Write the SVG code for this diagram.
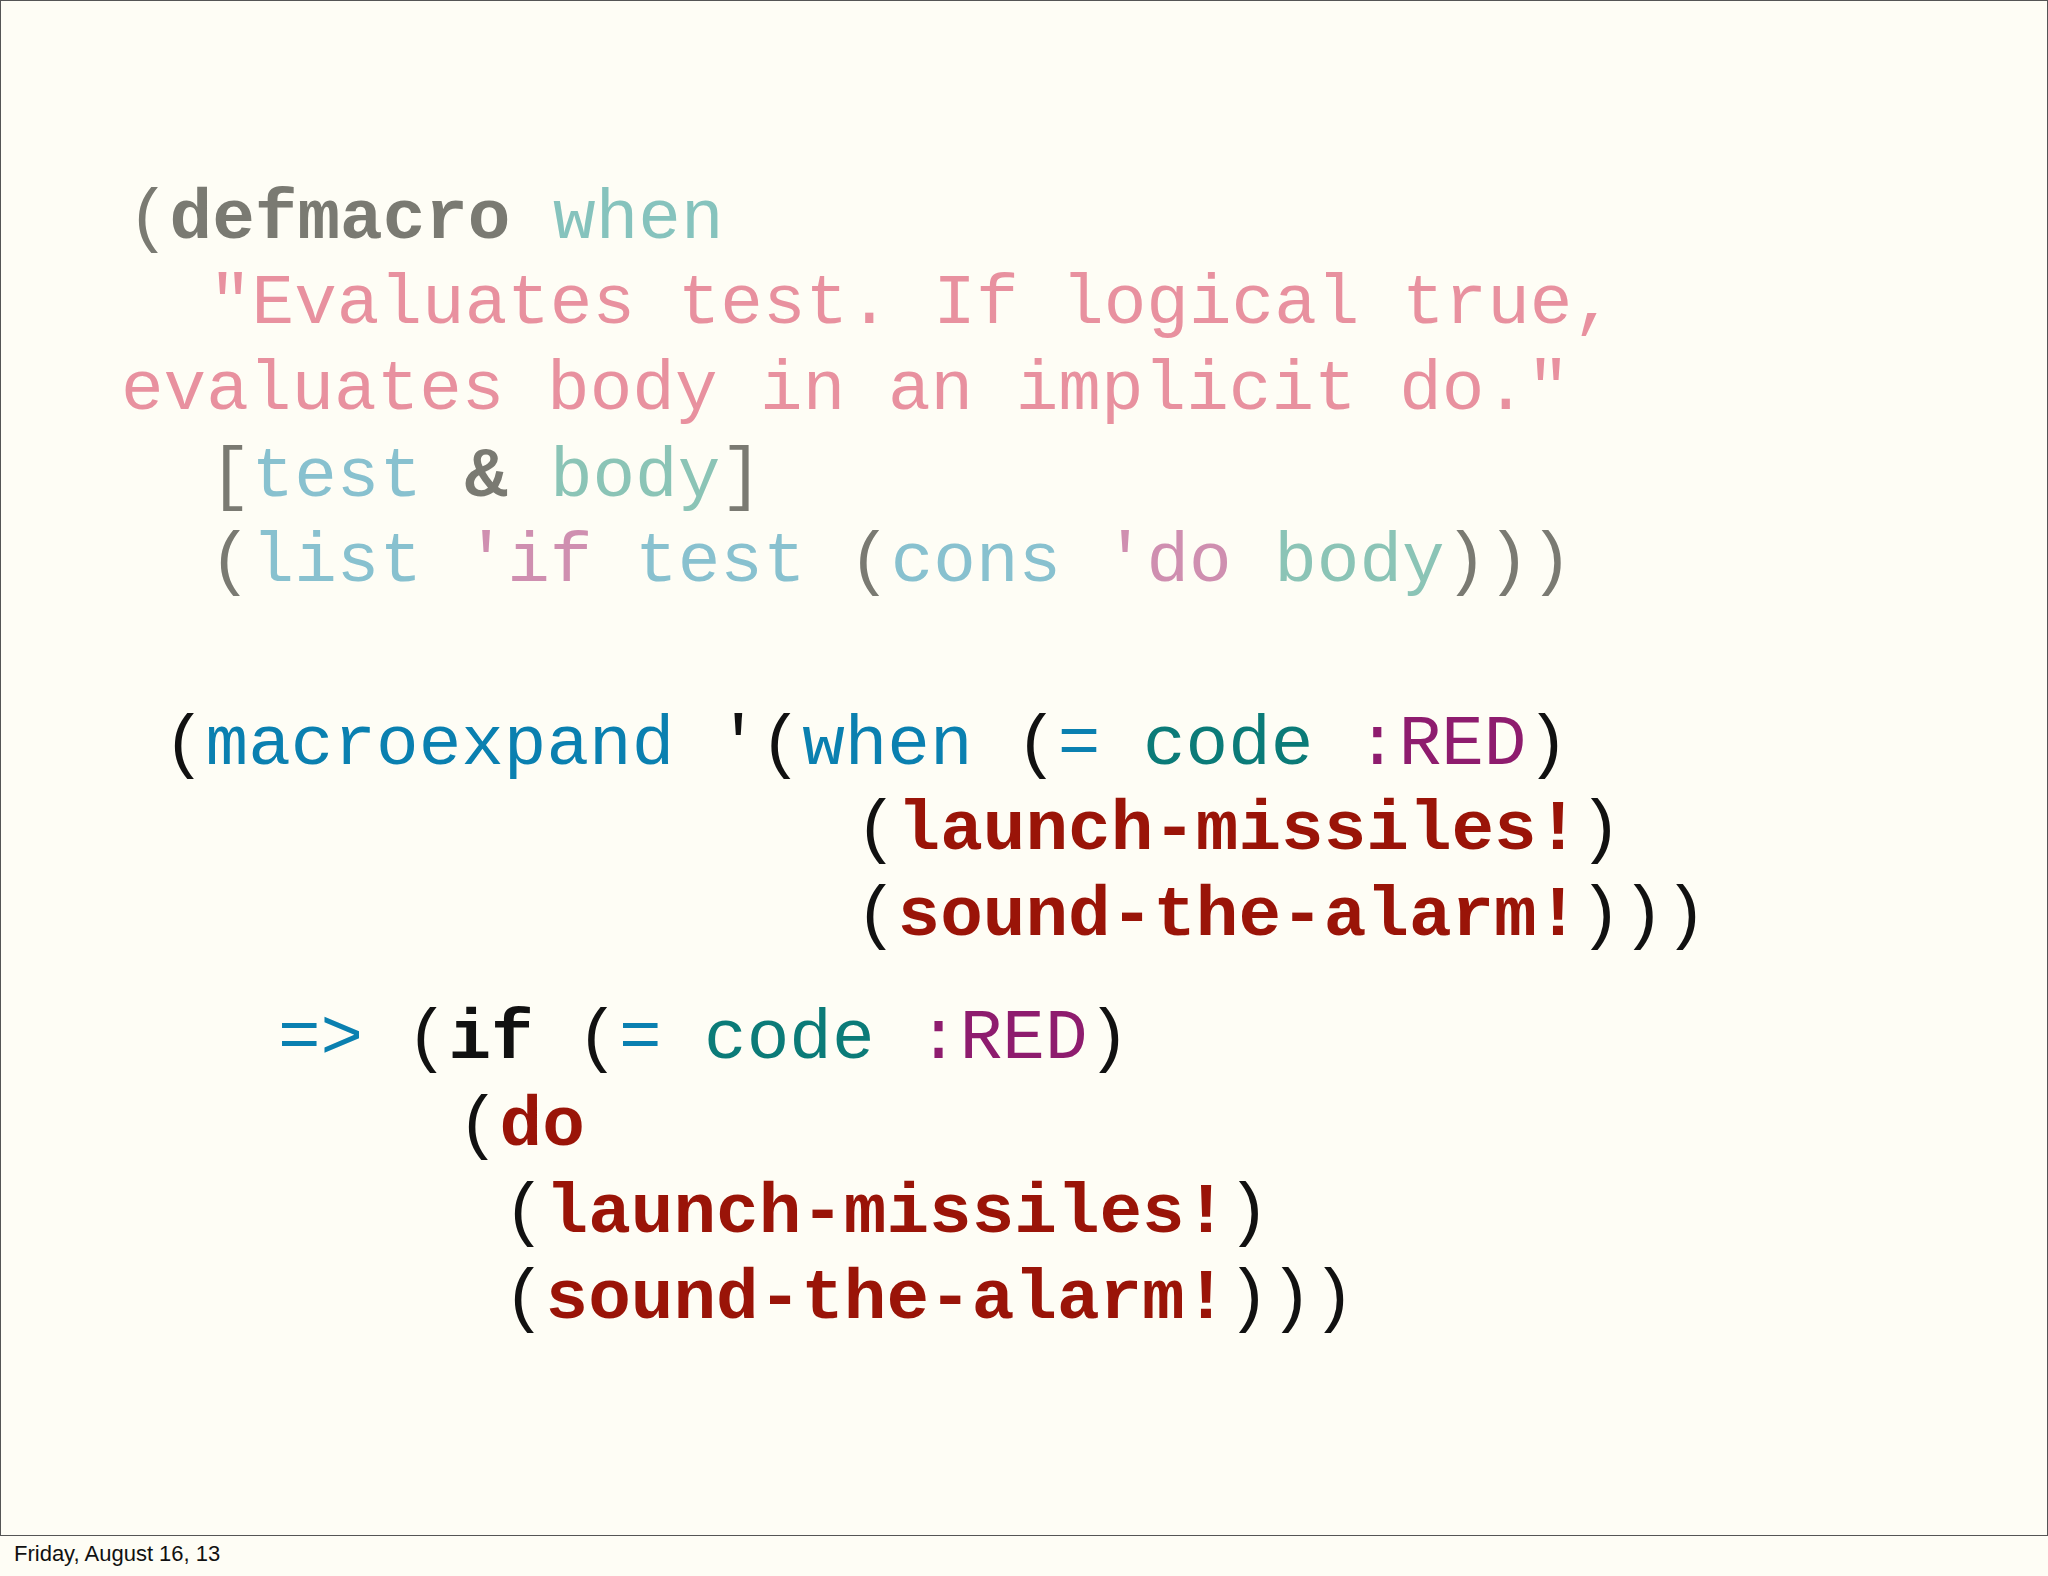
<svg xmlns="http://www.w3.org/2000/svg" width="2048" height="1576" viewBox="0 0 2048 1576">
<style>
text{font-family:"Liberation Mono","Courier New",monospace;font-size:71px;white-space:pre}
.g{fill:#7a7a72}.gb{fill:#7a7a72;font-weight:bold}.w{fill:#86c3bd}.s{fill:#e8919f}.t{fill:#88c1cf}.b{fill:#8bc4b6}.q{fill:#cf8fb0}
.k{fill:#111}.kb{fill:#111;font-weight:bold}.bl{fill:#0a80b0}.c{fill:#0b7b78}.r{fill:#8e1c6e}.rd{fill:#9a1408;font-weight:bold}
.foot{font-family:"Liberation Sans",Arial,sans-serif;font-size:22px;fill:#111}
</style>
<rect width="2048" height="1576" fill="#fefdf5"/>
<rect x="0.5" y="0.5" width="2047" height="1535" fill="none" stroke="#555" stroke-width="1"/>
<text x="127" y="238" xml:space="preserve"><tspan class="g">(</tspan><tspan class="gb">defmacro</tspan> <tspan class="w">when</tspan></text>
<text x="209" y="323" class="s" xml:space="preserve">"Evaluates test. If logical true,</text>
<text x="121" y="409" class="s" xml:space="preserve">evaluates body in an implicit do."</text>
<text x="209" y="496" xml:space="preserve"><tspan class="g">[</tspan><tspan class="t">test</tspan> <tspan class="gb">&amp;</tspan> <tspan class="b">body</tspan><tspan class="g">]</tspan></text>
<text x="209" y="581" xml:space="preserve"><tspan class="g">(</tspan><tspan class="t">list</tspan> <tspan class="q">'if</tspan> <tspan class="t">test</tspan> <tspan class="g">(</tspan><tspan class="t">cons</tspan> <tspan class="q">'do</tspan> <tspan class="b">body</tspan><tspan class="g">)))</tspan></text>
<text x="163" y="764" xml:space="preserve"><tspan class="k">(</tspan><tspan class="bl">macroexpand</tspan> <tspan class="k">'(</tspan><tspan class="bl">when</tspan> <tspan class="k">(</tspan><tspan class="bl">=</tspan> <tspan class="c">code</tspan> <tspan class="r">:RED</tspan><tspan class="k">)</tspan></text>
<text x="855" y="849" xml:space="preserve"><tspan class="k">(</tspan><tspan class="rd">launch-missiles!</tspan><tspan class="k">)</tspan></text>
<text x="855" y="935" xml:space="preserve"><tspan class="k">(</tspan><tspan class="rd">sound-the-alarm!</tspan><tspan class="k">)))</tspan></text>
<text x="278" y="1058" xml:space="preserve"><tspan class="bl">=&gt;</tspan> <tspan class="k">(</tspan><tspan class="kb">if</tspan> <tspan class="k">(</tspan><tspan class="bl">=</tspan> <tspan class="c">code</tspan> <tspan class="r">:RED</tspan><tspan class="k">)</tspan></text>
<text x="457" y="1145" xml:space="preserve"><tspan class="k">(</tspan><tspan class="rd">do</tspan></text>
<text x="503" y="1232" xml:space="preserve"><tspan class="k">(</tspan><tspan class="rd">launch-missiles!</tspan><tspan class="k">)</tspan></text>
<text x="503" y="1318" xml:space="preserve"><tspan class="k">(</tspan><tspan class="rd">sound-the-alarm!</tspan><tspan class="k">)))</tspan></text>
<text x="14" y="1561" class="foot">Friday, August 16, 13</text>
</svg>
